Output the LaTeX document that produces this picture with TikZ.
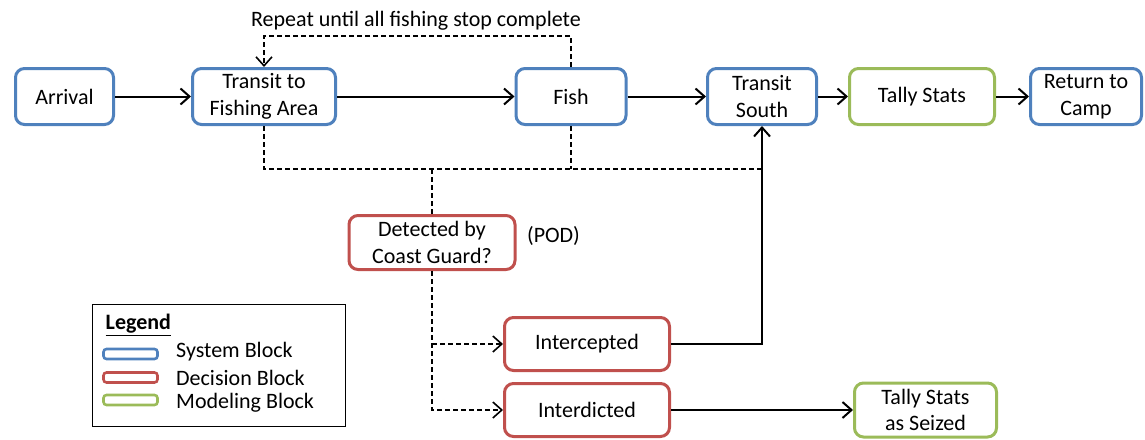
\documentclass[tikz,border=0pt]{standalone}
\usepackage{fontspec}
\setmainfont{Carlito}
\usetikzlibrary{arrows.meta}
\definecolor{sysblue}{HTML}{4F81BD}
\definecolor{decred}{HTML}{C0504D}
\definecolor{modgreen}{HTML}{9BBB59}
\begin{document}
\begin{tikzpicture}[x=1pt,y=-1pt,
  every node/.style={font=\fontsize{22}{26.5}\selectfont, inner sep=0pt},
  blk/.style={draw, line width=3pt, rounded corners=9pt, align=center, fill=white},
  sys/.style={blk, draw=sysblue},
  dec/.style={blk, draw=decred},
  mdl/.style={blk, draw=modgreen},
  tip/.style={-{Straight Barb[length=9pt,width=16pt]}},
  ar/.style={line width=2pt, tip},
  dsh/.style={line width=1.6pt, dash pattern=on 5pt off 3pt},
  swatch/.style={draw, line width=2.6pt, rounded corners=3pt, minimum width=54pt, minimum height=10pt},
  legtext/.style={anchor=west}
]
\useasboundingbox (0,0) rectangle (1145,439);
% top row
\node[sys, minimum width=98pt, minimum height=56pt] (arr) at (64.5,96.5) {Arrival};
\node[sys, minimum width=143pt, minimum height=56pt] (tf) at (264,96.5) {Transit to\\Fishing Area};
\node[sys, minimum width=110pt, minimum height=56pt] (fish) at (571,96.5) {Fish};
\node[sys, minimum width=109pt, minimum height=56pt] (ts) at (762,96.5) {Transit\\South};
\node[mdl, minimum width=145pt, minimum height=56pt] (tally) at (922,96.5) {Tally Stats};
\node[sys, minimum width=111pt, minimum height=56pt] (ret) at (1086,96.5) {Return to\\Camp};
% decision blocks
\node[dec, minimum width=166pt, minimum height=54pt] (det) at (432,242.5) {Detected by\\Coast Guard?};
\node (pod) at (553.5,236) {(POD)};
\node[dec, minimum width=165pt, minimum height=53pt] (icp) at (587,344) {Intercepted};
\node[dec, minimum width=165pt, minimum height=53pt] (itd) at (587,410) {Interdicted};
\node[mdl, minimum width=142pt, minimum height=54pt] (seized) at (925.5,410) {Tally Stats\\as Seized};
% repeat loop
\node (rep) at (416,21) {Repeat until all fishing stop complete};
\coordinate (lp) at (0,36);
\draw[dsh, tip] (fish.north) -- (fish.north |- lp) -| (tf.north);
% main arrows
\draw[ar] (arr) -- (tf);
\draw[ar] (tf) -- (fish);
\draw[ar] (fish) -- (ts);
\draw[ar] (ts) -- (tally);
\draw[ar] (tally) -- (ret);
% dashed collectors
\coordinate (hy) at (0,169);
\draw[dsh] (tf.south) |- (ts.south |- hy);
\draw[dsh] (fish.south) -- (fish.south |- hy);
\draw[dsh] (det.north |- hy) -- (det.north);
\draw[dsh, tip] (det.south) |- (itd.west);
\draw[dsh, tip] (det.south |- icp.west) -- (icp.west);
% solid outputs
\draw[ar] (icp.east) -| (ts.south);
\draw[ar] (itd.east) -- (seized.west);
% legend
\node[draw, line width=1.5pt, minimum width=253pt, minimum height=122pt] (leg) at (219,365.5) {};
\node[anchor=west] (legt) at (105.5,325) {\underline{\textbf{Legend}}};
\node[swatch, draw=sysblue] (s1) at (130.5,354) {};
\node[swatch, draw=decred] (s2) at (130.5,377.5) {};
\node[swatch, draw=modgreen] (s3) at (130.5,400) {};
\node[legtext] (l1) at (176,352) {System Block};
\node[legtext] (l2) at (176,377.5) {Decision Block};
\node[legtext] (l3) at (176,403) {Modeling Block};
\end{tikzpicture}
\end{document}
